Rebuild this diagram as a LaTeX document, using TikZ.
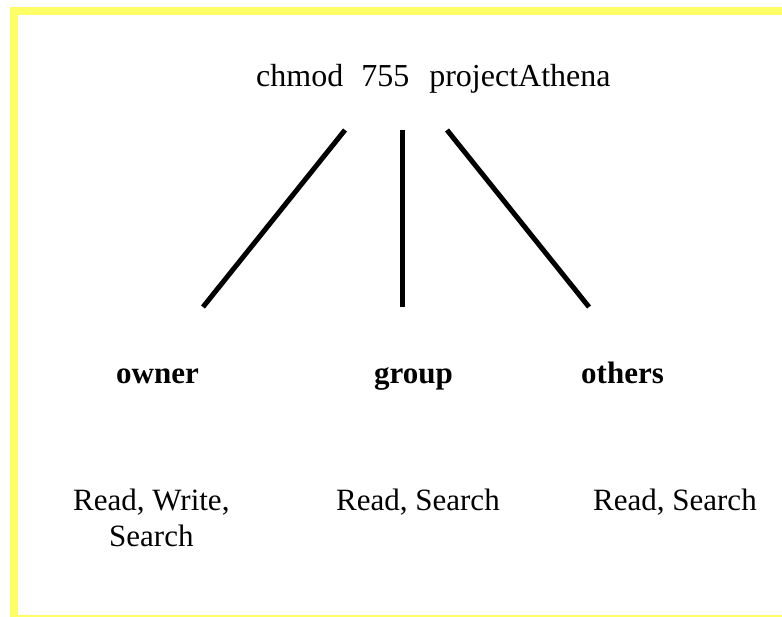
\documentclass[tikz,border=0pt]{standalone}
\usepackage{fontspec}
\setmainfont{Liberation Serif}
\definecolor{frameyellow}{RGB}{255,255,102}
\begin{document}
\begin{tikzpicture}[x=1pt,y=-1pt,
  txt/.style={inner sep=0pt,anchor=base west,font=\fontsize{31}{36}\selectfont},
  cmdtxt/.style={inner sep=0pt,anchor=base west,font=\fontsize{32}{38}\selectfont},
  role/.style={inner sep=0pt,anchor=base west,font=\fontsize{31}{36}\selectfont\bfseries},
  stem/.style={line width=5pt,black}]
\useasboundingbox (0,0) rectangle (782,616);
\begin{scope}
\clip (0,0) rectangle (782,616);
\draw[frameyellow,line width=8pt] (14,11) rectangle (790,619.4);
\end{scope}
\node[cmdtxt] (cmd) at (256,86) {chmod\hspace{18pt}755\hspace{20pt}projectAthena};
\coordinate (t1) at (345,130);
\coordinate (t2) at (402,130);
\coordinate (t3) at (447,130);
\coordinate (b1) at (203,307);
\coordinate (b2) at (402,307);
\coordinate (b3) at (589,307);
\draw[stem] (t1) -- (b1);
\draw[stem] (t2) -- (b2);
\draw[stem] (t3) -- (b3);
\node[role] (owner) at (116,383) {owner};
\node[role] (group) at (374,383) {group};
\node[role] (others) at (581,383) {others};
\node[txt,align=left] (ownerp) at (73,546) {Read, Write,\\\hspace*{36pt}Search};
\node[txt] (groupp) at (336,510) {Read, Search};
\node[txt] (othersp) at (593,510) {Read, Search};
\end{tikzpicture}
\end{document}
